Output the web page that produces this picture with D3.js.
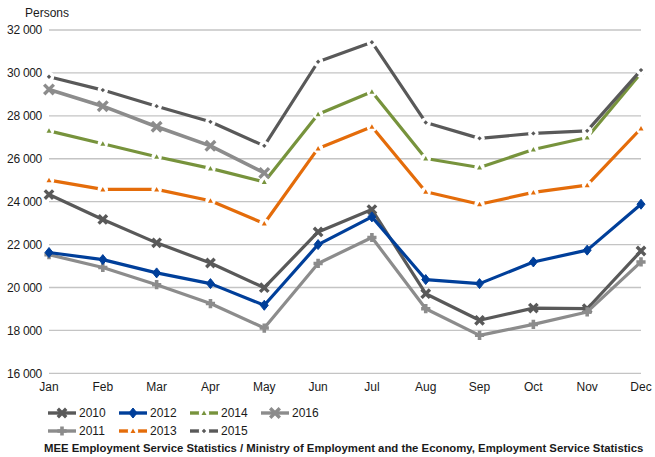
<!DOCTYPE html>
<html><head><meta charset="utf-8">
<script src="https://cdn.jsdelivr.net/npm/d3@7"></script>
<style>
html,body{margin:0;padding:0;background:#fff;}
svg{display:block;font-family:"Liberation Sans",Arial,sans-serif;}
</style></head>
<body>
<svg id="c" width="655" height="457"></svg>
<script>
const months = ["Jan","Feb","Mar","Apr","May","Jun","Jul","Aug","Sep","Oct","Nov","Dec"];
const years = ["2010","2011","2012","2013","2014","2015","2016"];
const s2010 = [24330, 23170, 22080, 21140, 19990, 22590, 23630, 19710, 18470, 19040, 19010, 21700];
const s2011 = [21530, 20930, 20130, 19250, 18110, 21120, 22330, 19010, 17770, 18280, 18860, 21190];
const s2012 = [21630, 21300, 20680, 20180, 19170, 22000, 23290, 20370, 20180, 21190, 21740, 23880];
const s2013 = [25000, 24570, 24570, 24040, 22980, 26480, 27490, 24460, 23880, 24430, 24770, 27410];
const s2014 = [27300, 26700, 26090, 25550, 24920, 28070, 29120, 26010, 25590, 26430, 26990, 30000];
const s2015 = [29820, 29200, 28450, 27720, 26600, 30520, 31430, 27690, 26950, 27180, 27300, 30130];
const s2016 = [29230, 28450, 27490, 26600, 25340];
const yTicks = [16000, 18000, 20000, 22000, 24000, 26000, 28000, 30000, 32000];
const yTitle = "Persons";
const source = "MEE Employment Service Statistics / Ministry of Employment and the Economy, Employment Service Statistics";

const styles = {
  "2010": {color:"#595959", marker:"x", w:3.2, size:4.2},
  "2011": {color:"#8c8c8c", marker:"plus", w:3.2, size:4.6},
  "2012": {color:"#003f9a", marker:"diamond", w:3.2, size:5},
  "2013": {color:"#e46c0a", marker:"tri", w:3.2, size:2.5},
  "2014": {color:"#77933c", marker:"tri", w:3.2, size:2.5},
  "2015": {color:"#595959", marker:"dot", w:3.2, size:2.2},
  "2016": {color:"#8c8c8c", marker:"x", w:3.6, size:4.8}
};
const seriesData = {"2010":s2010,"2011":s2011,"2012":s2012,"2013":s2013,"2014":s2014,"2015":s2015,"2016":s2016};

const svg = d3.select("#c");
const x = d3.scalePoint().domain(months).range([49, 641]);
const y = d3.scaleLinear().domain([16000, 32000]).range([373.3, 30]);

// gridlines
svg.append("g").selectAll("line").data(yTicks).join("line")
  .attr("x1", 49).attr("x2", 641)
  .attr("y1", d => y(d)).attr("y2", d => y(d))
  .attr("stroke", "#c4c4c4").attr("stroke-width", 1.3);

// y labels
const fmt = d => d3.format(",")(d).replace(/,/g, " ");
svg.append("g").selectAll("text").data(yTicks).join("text")
  .attr("x", 42).attr("y", d => y(d)).attr("dy", "0.35em")
  .attr("text-anchor", "end").attr("font-size", 12).attr("fill", "#1a1a1a")
  .attr("letter-spacing", -0.3)
  .text(fmt);

svg.append("text").attr("x", 25).attr("y", 17).attr("font-size", 12).attr("fill", "#1a1a1a").text(yTitle);

// x labels
svg.append("g").selectAll("text").data(months).join("text")
  .attr("x", d => x(d)).attr("y", 391)
  .attr("text-anchor", "middle").attr("font-size", 12).attr("fill", "#1a1a1a")
  .text(d => d);

function drawMarker(g, st, cx, cy) {
  const s = st.size;
  if (st.marker === "x") {
    g.append("path").attr("d", `M${cx-s},${cy-s}L${cx+s},${cy+s}M${cx-s},${cy+s}L${cx+s},${cy-s}`)
      .attr("stroke", st.color).attr("stroke-width", 3.4).attr("fill", "none");
  } else if (st.marker === "plus") {
    g.append("path").attr("d", `M${cx-s},${cy}L${cx+s},${cy}M${cx},${cy-s}L${cx},${cy+s}`)
      .attr("stroke", st.color).attr("stroke-width", 3.6).attr("fill", "none");
  } else if (st.marker === "diamond") {
    g.append("path").attr("d", `M${cx},${cy-s}L${cx+s*0.8},${cy}L${cx},${cy+s}L${cx-s*0.8},${cy}Z`)
      .attr("fill", st.color).attr("stroke", st.color).attr("stroke-width", 1);
  } else {
    g.append("circle").attr("cx", cx).attr("cy", cy).attr("r", 5.2).attr("fill", "#fff");
    if (st.marker === "tri") {
      g.append("path").attr("d", `M${cx},${cy-s}L${cx+s},${cy+s*0.8}L${cx-s},${cy+s*0.8}Z`).attr("fill", st.color);
    } else {
      g.append("path").attr("d", `M${cx},${cy-s}L${cx+s},${cy}L${cx},${cy+s}L${cx-s},${cy}Z`).attr("fill", st.color);
    }
  }
}

const line = d3.line().x((d, i) => x(months[i])).y(d => y(d));
years.forEach(yr => {
  const st = styles[yr];
  const vals = seriesData[yr];
  const g = svg.append("g");
  g.append("path").attr("d", line(vals)).attr("fill", "none")
    .attr("stroke", st.color).attr("stroke-width", st.w).attr("stroke-linejoin", "round");
  vals.forEach((v, i) => drawMarker(g, st, x(months[i]), y(v)));
});

// legend
const legendRows = [["2010","2012","2014","2016"],["2011","2013","2015"]];
legendRows.forEach((row, r) => {
  row.forEach((yr, c) => {
    const st = styles[yr];
    const lx = 48 + c * 71, ly = 413 + r * 18;
    const g = svg.append("g");
    g.append("line").attr("x1", lx).attr("x2", lx + 28).attr("y1", ly).attr("y2", ly)
      .attr("stroke", st.color).attr("stroke-width", 3.4);
    drawMarker(g, st, lx + 14, ly);
    g.append("text").attr("x", lx + 31).attr("y", ly).attr("dy", "0.35em")
      .attr("font-size", 12).attr("fill", "#1a1a1a").text(yr);
  });
});

svg.append("text").attr("x", 44).attr("y", 452).attr("font-size", 11.35).attr("font-weight", "bold")
  .attr("fill", "#1a1a1a").text(source);
</script>
</body></html>
